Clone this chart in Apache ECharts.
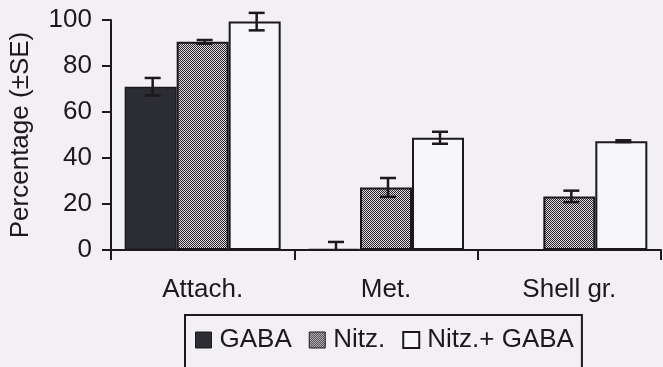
<!DOCTYPE html>
<html><head><meta charset="utf-8">
<script src="https://cdn.jsdelivr.net/npm/echarts@6/dist/echarts.min.js"></script>
<style>html,body{margin:0;padding:0;background:#f2f0f5}#c{width:663px;height:367px}</style>
</head><body><div id="c"></div>
<script>
const categories = ['Attach.', 'Met.', 'Shell gr.'];
const seriesNames = ['GABA', 'Nitz.', 'Nitz.+ GABA'];
const gabaValues = [71, 0.5, 0];
const gabaSE = [3.8, 3, 0];
const nitzValues = [90.5, 27.2, 23.3];
const nitzSE = [0.8, 4.1, 2.5];
const nitzGabaValues = [99.3, 48.8, 47.3];
const nitzGabaSE = [3.8, 2.6, 0.4];
const yTicks = [0, 20, 40, 60, 80, 100];

const ink = '#1c181b';
const font = '"Liberation Sans", Arial, sans-serif';
const FS = 26;
const BAR_W = 52;

// hatch pattern for Nitz.
const pc = document.createElement('canvas');
pc.width = 4; pc.height = 4;
const pctx = pc.getContext('2d');
pctx.fillStyle = '#dcdadf';
pctx.fillRect(0, 0, 4, 4);
pctx.fillStyle = '#2a272b';
[[0,0],[1,1],[2,2],[3,3],[2,0],[3,1],[0,2],[1,3]].forEach(([x,y]) => { if ((x+y)%2===0 && (x===y || Math.abs(x-y)===2)) pctx.fillRect(x, y, 1, 1); });
const pattern = { image: pc, repeat: 'repeat' };

const styles = [
  { color: '#2c2d33', borderColor: ink, borderWidth: 1.5 },
  { color: pattern, borderColor: ink, borderWidth: 2 },
  { color: '#f7f6f9', borderColor: ink, borderWidth: 2 }
];
const vals = [gabaValues, nitzValues, nitzGabaValues];
const ses = [gabaSE, nitzSE, nitzGabaSE];

const series = [];
vals.forEach((v, i) => {
  series.push({
    name: seriesNames[i], type: 'bar', data: v, barWidth: BAR_W, barGap: '0%',
    itemStyle: styles[i], emphasis: { disabled: true }
  });
});
vals.forEach((v, i) => {
  series.push({
    type: 'custom', name: 'err' + i, z: 5,
    data: v.map((val, k) => [k, val, ses[i][k]]),
    renderItem: (params, api) => {
      const c = api.value(0), val = api.value(1), se = api.value(2);
      if (se <= 0) return null;
      const hi = api.coord([c, val + se]);
      const lo = api.coord([c, Math.max(val - se, 0)]);
      const x = hi[0] + (i - 1) * BAR_W + 2;
      const hw = 8;
      const st = { stroke: ink, lineWidth: 2.5 };
      const children = [
        { type: 'line', shape: { x1: x, y1: hi[1], x2: x, y2: lo[1] }, style: st },
        { type: 'line', shape: { x1: x - hw, y1: hi[1], x2: x + hw, y2: hi[1] }, style: st }
      ];
      if (val - se > 0) children.push({ type: 'line', shape: { x1: x - hw, y1: lo[1], x2: x + hw, y2: lo[1] }, style: st });
      return { type: 'group', children };
    }
  });
});

const chart = echarts.init(document.getElementById('c'), null, { renderer: 'canvas' });
chart.setOption({
  backgroundColor: '#f2f0f5',
  animation: false,
  textStyle: { fontFamily: font, color: ink },
  grid: { left: 109, right: 2, top: 20, bottom: 117 },
  legend: {
    data: [
      { name: 'GABA', itemStyle: { color: '#2c2d33', borderColor: ink, borderWidth: 1 } },
      { name: 'Nitz.', itemStyle: { color: pattern, borderColor: ink, borderWidth: 1 } },
      { name: 'Nitz.+ GABA', itemStyle: { color: '#f7f6f9', borderColor: ink, borderWidth: 2 } }
    ],
    left: 185, top: 315,
    icon: 'rect', itemWidth: 16, itemHeight: 16, itemGap: 17,
    padding: [12, 8, 40, 10],
    borderColor: ink, borderWidth: 2,
    textStyle: { fontFamily: font, fontSize: FS, color: ink, padding: [0, 0, 0, 3] },
    selectedMode: false
  },
  xAxis: {
    type: 'category', data: categories, boundaryGap: true,
    axisLine: { lineStyle: { color: ink, width: 2 } },
    axisTick: { show: true, length: 10, lineStyle: { color: ink, width: 2 }, alignWithLabel: false },
    axisLabel: { fontFamily: font, fontSize: FS, color: ink, margin: 27 }
  },
  yAxis: {
    type: 'value', min: yTicks[0], max: yTicks[yTicks.length - 1], interval: 20,
    name: 'Percentage (±SE)', nameLocation: 'middle', nameGap: 77,
    nameTextStyle: { fontFamily: font, fontSize: FS, color: ink },
    axisLine: { show: true, lineStyle: { color: ink, width: 2 } },
    axisTick: { show: true, length: 9, lineStyle: { color: ink, width: 2 } },
    axisLabel: { fontFamily: font, fontSize: FS, color: ink, margin: 19 },
    splitLine: { show: false }
  },
  series
});
</script></body></html>
